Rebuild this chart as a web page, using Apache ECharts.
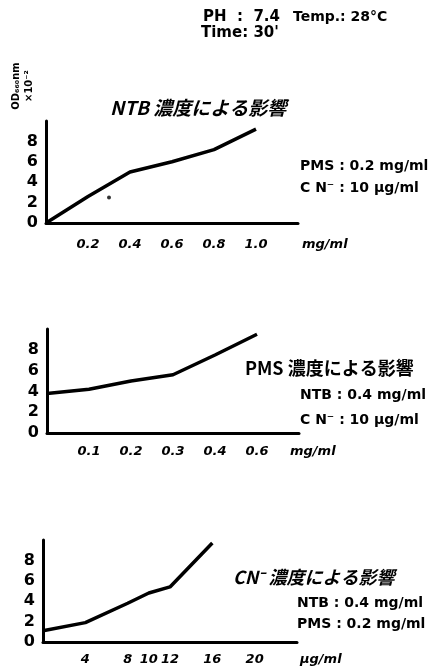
<!DOCTYPE html>
<html><head><meta charset="utf-8">
<script src="https://cdn.jsdelivr.net/npm/echarts@6/dist/echarts.min.js"></script>
<style>html,body{margin:0;padding:0;background:#fff}#c{width:440px;height:671px}</style>
</head><body><div id="c"></div>
<script>
// Chart 1: NTB concentration (mg/ml) vs OD x10^-2
const ntbConc = [0, 0.2, 0.4, 0.6, 0.8, 1.0];
const ntbOD = [0, 2.6, 5.0, 6.0, 7.2, 9.2];
const ntbTicks = [0.2, 0.4, 0.6, 0.8, 1.0];
const strayDot = [[0.3, 2.5]];
// Chart 2: PMS concentration (mg/ml)
const pmsConc = ['0', '0.1', '0.2', '0.3', '0.4', '0.6', ''];
const pmsOD = [3.8, 4.2, 5.0, 5.6, 7.5, 9.5];
// Chart 3: CN- concentration (µg/ml)
const cnConc = [0, 4, 8, 10, 12, 16];
const cnOD = [1.1, 1.9, 3.8, 4.8, 5.4, 9.7];
const cnTicks = [4, 8, 10, 12, 16, 20];
const yTicks = [0, 2, 4, 6, 8];

const FONT = '"DejaVu Sans", sans-serif';
const JP = '"Noto Sans CJK JP", sans-serif';
const axisLine = {show: true, lineStyle: {color: '#000', width: 3}};
function yAxisCfg(idx) {
  return {type: 'value', gridIndex: idx, min: 0, max: 10, interval: 2,
    axisLine: axisLine, axisTick: {show: false}, splitLine: {show: false},
    axisLabel: {customValues: yTicks, color: '#000', fontFamily: FONT, fontWeight: 'bold', fontSize: 16, margin: 8}};
}
const xLabel = {color: '#000', fontFamily: FONT, fontWeight: 'bold', fontStyle: 'italic', fontSize: 13};
const lineStyle = {color: '#000', width: 3.5};

const chart = echarts.init(document.getElementById('c'), null, {renderer: 'canvas'});
function txt(x, y, s, size, opts) {
  return Object.assign({type: 'text', x: x, y: y, style: Object.assign({text: s, fill: '#000',
    font: 'bold ' + size + 'px ' + FONT, textAlign: 'left', textVerticalAlign: 'middle'}, opts || {})});
}
chart.setOption({
  animation: false,
  backgroundColor: '#fff',
  grid: [
    {left: 46, top: 121, width: 252, height: 102},
    {left: 47, top: 329, width: 252, height: 104},
    {left: 43, top: 540, width: 254, height: 102}
  ],
  xAxis: [
    {type: 'value', gridIndex: 0, min: 0, max: 1.2, axisLine: axisLine, axisTick: {show: false}, splitLine: {show: false},
     axisLabel: Object.assign({customValues: ntbTicks, margin: 15, formatter: v => v.toFixed(1)}, xLabel)},
    {type: 'category', gridIndex: 1, data: pmsConc, boundaryGap: false, axisLine: axisLine, axisTick: {show: false},
     axisLabel: Object.assign({margin: 12, interval: 0, formatter: v => (v === '0' ? '' : v)}, xLabel)},
    {type: 'value', gridIndex: 2, min: 0, max: 24, axisLine: axisLine, axisTick: {show: false}, splitLine: {show: false},
     axisLabel: Object.assign({customValues: cnTicks, margin: 11}, xLabel)}
  ],
  yAxis: [yAxisCfg(0), yAxisCfg(1), yAxisCfg(2)],
  series: [
    {type: 'line', xAxisIndex: 0, yAxisIndex: 0, data: ntbConc.map((x, i) => [x, ntbOD[i]]), symbol: 'none', lineStyle: lineStyle},
    {type: 'scatter', xAxisIndex: 0, yAxisIndex: 0, data: strayDot, symbolSize: 4, itemStyle: {color: '#000'}},
    {type: 'line', xAxisIndex: 1, yAxisIndex: 1, data: pmsOD, symbol: 'none', lineStyle: lineStyle},
    {type: 'line', xAxisIndex: 2, yAxisIndex: 2, data: cnConc.map((x, i) => [x, cnOD[i]]), symbol: 'none', lineStyle: lineStyle}
  ],
  graphic: [
    txt(203, 17, 'PH  :  7.4', 15),
    txt(293, 17, 'Temp.: 28°C', 14),
    txt(201, 33, 'Time: 30\'', 15),
    {type: 'text', x: 23, y: 86, rotation: Math.PI / 2,
     style: {text: 'OD\u2086\u2086\u2080nm\n×10\u207B\u00B2', fill: '#000', font: 'bold 10px ' + FONT,
       textAlign: 'center', textVerticalAlign: 'middle', lineHeight: 13}},
    txt(110, 108, 'NTB 濃度による影響', 19, {font: 'bold italic 19px ' + JP}),
    txt(300, 166, 'PMS : 0.2 mg/ml', 14),
    txt(300, 188, 'C N⁻ : 10 µg/ml', 14),
    txt(302, 245, 'mg/ml', 13, {font: 'bold italic 13px ' + FONT}),
    txt(245, 368, 'PMS 濃度による影響', 18, {font: 'bold 18px ' + JP}),
    txt(300, 395, 'NTB : 0.4 mg/ml', 14),
    txt(300, 420, 'C N⁻ : 10 µg/ml', 14),
    txt(290, 452, 'mg/ml', 13, {font: 'bold italic 13px ' + FONT}),
    txt(233, 577, 'CN⁻ 濃度による影響', 18, {font: 'bold italic 18px ' + JP}),
    txt(297, 603, 'NTB : 0.4 mg/ml', 14),
    txt(297, 624, 'PMS : 0.2 mg/ml', 14),
    txt(300, 660, 'µg/ml', 13, {font: 'bold italic 13px ' + FONT})
  ]
});
</script></body></html>
